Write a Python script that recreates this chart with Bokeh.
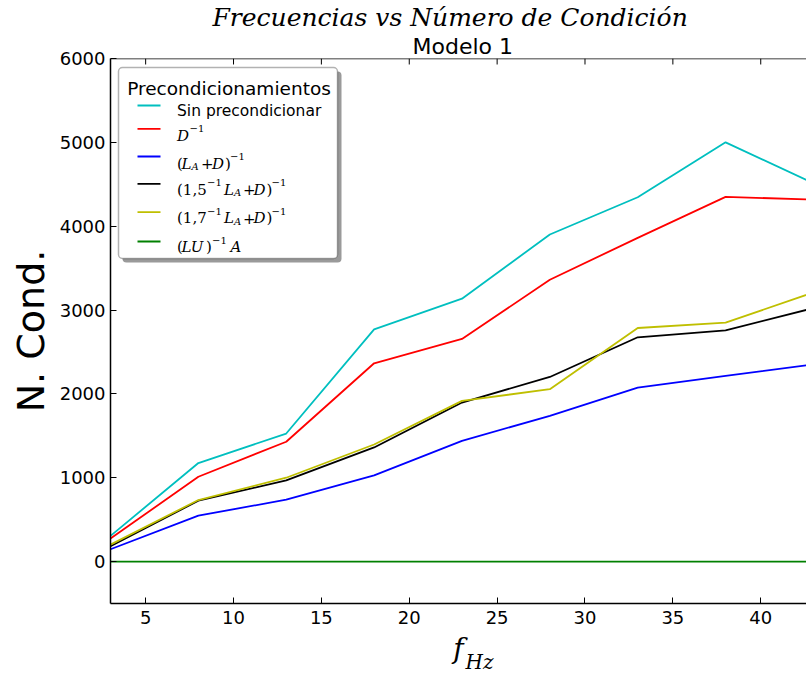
import numpy as np
from bokeh.plotting import figure
from bokeh.models import (Range1d, FixedTicker, LinearAxis, Label, BoxAnnotation,
                          Span, Title)
from bokeh.embed import file_html
from bokeh.resources import INLINE

# ---------------- data ----------------
freq = [3, 8, 13, 18, 23, 28, 33, 38, 43]
sin_precond = [306, 1175, 1527, 2770, 3135, 3901, 4345, 5000, 4514]
prec_d = [274, 1012, 1429, 2365, 2655, 3361, 3861, 4349, 4318]
prec_la_d = [147, 548, 738, 1028, 1440, 1738, 2075, 2214, 2352]
prec_15 = [183, 726, 968, 1361, 1897, 2202, 2675, 2758, 3023]
prec_17 = [202, 734, 1000, 1396, 1917, 2056, 2786, 2849, 3210]
prec_lu = [0, 0, 0, 0, 0, 0, 0, 0, 0]

x_ticks = [5, 10, 15, 20, 25, 30, 35, 40]
y_ticks = [0, 1000, 2000, 3000, 4000, 5000, 6000]

series = [sin_precond, prec_d, prec_la_d, prec_15, prec_17, prec_lu]
colors = ["#00bfbf", "#ff0000", "#0000ff", "#000000", "#bfbf00", "#008000"]

title_text = "Frecuencias vs Número de Condición"
subtitle_text = "Modelo 1"
ylabel_text = "N. Cond."
xlabel_main = "f"
xlabel_sub = "Hz"
legend_title = "Precondicionamientos"

# ---------------- figure ----------------
W, H = 806, 673
FL, FT, FB = 110, 57, 603          # frame left / top / bottom (page px)
PX_PER_X = 17.574                  # px per x unit
PX_PER_Y = 0.084                   # px per y unit

p = figure(width=W, height=H,
           min_border_left=FL, min_border_right=0,
           min_border_top=FT, min_border_bottom=H - FB,
           x_range=Range1d(3, 3 + (W - FL) / PX_PER_X), y_range=Range1d(-500, 6000),
           output_backend="svg", toolbar_location=None,
           background_fill_color="white", border_fill_color="white")
p.outline_line_color = None
p.grid.visible = False

for ax in (p.xaxis[0], p.yaxis[0]):
    ax.major_tick_in = 6
    ax.major_tick_out = 0
    ax.minor_tick_line_color = None
    ax.axis_line_width = 1.5
    ax.axis_line_color = "black"
    ax.major_tick_line_color = "black"
    ax.major_label_text_font = "DejaVu Sans"
    ax.major_label_text_font_size = "18px"
    ax.major_label_text_color = "black"

p.xaxis.ticker = FixedTicker(ticks=x_ticks)
p.yaxis.ticker = FixedTicker(ticks=y_ticks)
p.xaxis.major_label_standoff = 7
p.yaxis.major_label_standoff = 5

# y axis label
p.yaxis.axis_label = ylabel_text
p.yaxis.axis_label_text_font = "DejaVu Sans"
p.yaxis.axis_label_text_font_style = "normal"
p.yaxis.axis_label_text_font_size = "38px"
p.yaxis.axis_label_text_color = "black"
p.yaxis.axis_label_standoff = 4

# x axis label  f_Hz  (subscript as tick label of an extra axis, f as its label)
hz_pos = 24
xl = LinearAxis(ticker=FixedTicker(ticks=[hz_pos]), major_label_overrides={hz_pos: xlabel_sub},
                axis_line_color=None, major_tick_line_color=None, minor_tick_line_color=None,
                major_tick_in=0, major_tick_out=0, major_label_standoff=23,
                major_label_text_font="DejaVu Serif", major_label_text_font_style="italic",
                major_label_text_font_size="20px", major_label_text_color="black",
                axis_label=xlabel_main, axis_label_standoff=-45,
                axis_label_text_font="DejaVu Serif", axis_label_text_font_style="italic",
                axis_label_text_font_size="28px", axis_label_text_color="black")
p.add_layout(xl, "below")

# titles (added title sits nearer to the frame)
p.title.text = title_text
p.title.align = "left"
p.title.offset = 102
p.title.standoff = 0
p.title.text_font = "DejaVu Serif"
p.title.text_font_style = "italic"
p.title.text_font_size = "25px"
p.title.text_color = "black"
p.add_layout(Title(text=subtitle_text, align="left", offset=302, standoff=0,
                   text_font="DejaVu Sans", text_font_style="normal",
                   text_font_size="22px", text_color="black"), "above")

# top frame line + inward ticks
p.add_layout(Span(location=6000, dimension="width", line_color="black", line_width=1.5))
p.segment(x0=x_ticks, y0=[6000] * len(x_ticks), x1=x_ticks,
          y1=[6000 - 6 / PX_PER_Y] * len(x_ticks), line_color="black", line_width=1)

for ys, c in zip(series, colors):
    p.line(freq, ys, line_color=c, line_width=1.8)


def lab(text, px, py, size, font="DejaVu Sans", style="normal", align="left",
        baseline="alphabetic"):
    p.add_layout(Label(x=px - FL, y=FB - py, x_units="screen", y_units="screen",
                       text=text, text_font=font, text_font_size=f"{size}px",
                       text_font_style=style, text_align=align,
                       text_baseline=baseline, text_color="black"))


# ---------------- legend ----------------
LB_L, LB_R, LB_T, LB_B = 118, 337, 67, 258


def sbox(l, r, t, b, **kw):
    p.add_layout(BoxAnnotation(left=l - FL, right=r - FL, top=FB - t, bottom=FB - b,
                               left_units="screen", right_units="screen",
                               top_units="screen", bottom_units="screen", **kw))


sbox(LB_L + 4, LB_R + 4, LB_T + 4, LB_B + 4, fill_color="#9a9a9a", fill_alpha=1.0,
     line_color=None, border_radius=4)
sbox(LB_L, LB_R, LB_T, LB_B, fill_color="white", fill_alpha=1.0, line_color="black",
     line_width=1.5, border_radius=4)
lab(legend_title, 228.5, 88, 18.5, align="center")

row_y = [105, 128.3, 156, 183.3, 211.7, 241]
row_base = [110.5, 135, 163, 189, 217.5, 246.5]
legend_rows = [
    [("Sin precondicionar", 176.5, "txt")],
    [("D", 176.5, "it"), ("−1", 189, "sup")],
    [("(", 176.5, "rm"), ("L", 181, "it"), ("A", 191, "sub"), ("+", 200.5, "rm"),
     ("D", 211.5, "it"), (")", 224.5, "rm"), ("−1", 229.5, "sup")],
    [("(1,5", 176.5, "rm"), ("−1", 206.5, "sup"), ("L", 223.5, "it"), ("A", 233.5, "sub"),
     ("+", 242.5, "rm"), ("D", 253, "it"), (")", 266, "rm"), ("−1", 271, "sup")],
    [("(1,7", 176.5, "rm"), ("−1", 206.5, "sup"), ("L", 223.5, "it"), ("A", 233.5, "sub"),
     ("+", 242.5, "rm"), ("D", 253, "it"), (")", 266, "rm"), ("−1", 271, "sup")],
    [("(", 176.5, "rm"), ("LU", 181, "it"), (")", 205.5, "rm"), ("−1", 211.5, "sup"),
     ("A", 230, "it")],
]

for yy, base, segs, c in zip(row_y, row_base, legend_rows, colors):
    sbox(137, 160, yy - 0.9, yy + 0.9, fill_color=c, fill_alpha=1.0, line_color=None)
    for text, xx, kind in segs:
        if kind == "txt":
            lab(text, xx, base, 15.5)
        elif kind == "it":
            lab(text, xx, base, 15, font="DejaVu Serif", style="italic")
        elif kind == "rm":
            lab(text, xx, base, 15, font="DejaVu Serif")
        elif kind == "sup":
            lab(text, xx, base - 7, 10, font="DejaVu Serif")
        elif kind == "sub":
            lab(text, xx, base + 3, 10, font="DejaVu Serif", style="italic")

open("out.html", "w").write(file_html(p, INLINE))
